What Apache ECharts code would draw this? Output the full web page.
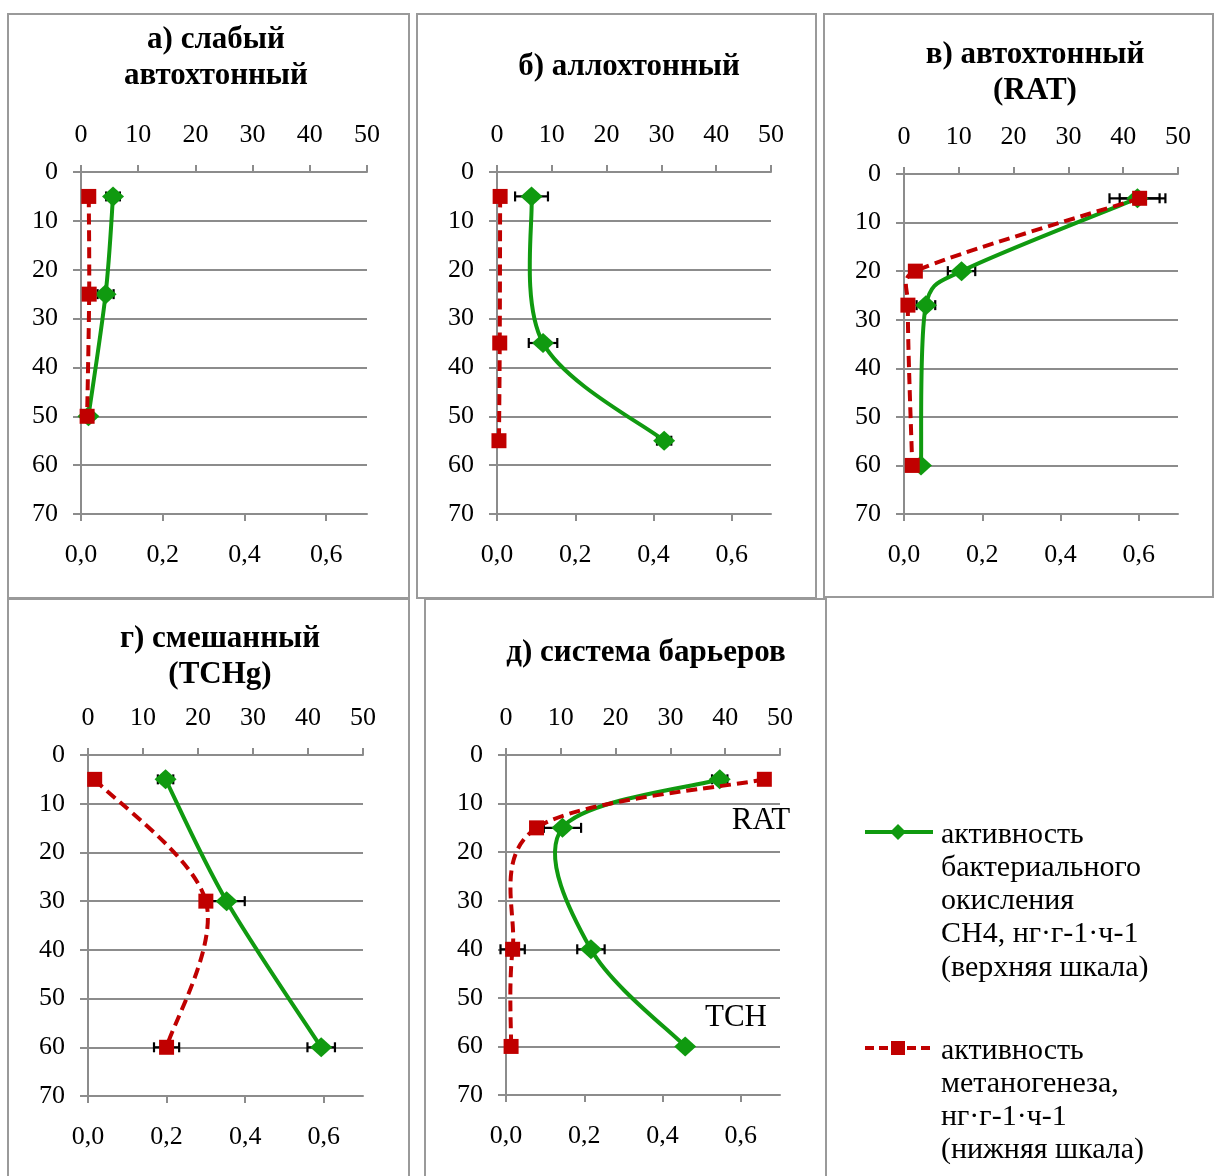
<!DOCTYPE html>
<html>
<head>
<meta charset="utf-8">
<script src="https://cdn.jsdelivr.net/npm/echarts@6/dist/echarts.min.js"></script>
<style>
  html, body { margin: 0; padding: 0; background: #ffffff; }
  #chart { width: 1214px; height: 1176px; }
</style>
</head>
<body>
<div id="chart"></div>
<script>
// Depth profiles (cm): CH4 oxidation (top scale) and methanogenesis (bottom scale)

const panelTitles = [
  'а) слабый\nавтохтонный',
  'б) аллохтонный',
  'в) автохтонный\n(RAT)',
  'г) смешанный\n(TCHg)',
  'д) система барьеров'
];

// tick values
const topTicks = [0, 10, 20, 30, 40, 50];
const bottomTicks = [0, 0.2, 0.4, 0.6];
const depthTicks = [0, 10, 20, 30, 40, 50, 60, 70];

// а) weak autochthonous
const depthA = [5, 25, 50];
const oxidA = [5.6, 4.3, 1.3];
const oxidErrA = [1.2, 1.4, 0];
const methA = [0.019, 0.020, 0.015];
const methErrA = [0, 0, 0];

// б) allochthonous
const depthB = [5, 35, 55];
const oxidB = [6.3, 8.4, 30.5];
const oxidErrB = [3.0, 2.6, 1.3];
const methB = [0.008, 0.007, 0.005];
const methErrB = [0, 0, 0];

// в) autochthonous (RAT)
const depthC = [5, 20, 27, 60];
const oxidC = [42.6, 10.5, 4.0, 3.1];
const oxidErrC = [5.1, 2.5, 1.7, 0];
const methC = [0.602, 0.029, 0.010, 0.021];
const methErrC = [0.051, 0, 0, 0];

// г) mixed (TCHg)
const depthD = [5, 30, 60];
const oxidD = [14.1, 25.2, 42.4];
const oxidErrD = [1.4, 3.3, 2.5];
const methD = [0.017, 0.30, 0.20];
const methErrD = [0, 0, 0.032];

// д) barrier system
const depthE = [5, 15, 40, 60];
const oxidE = [39.0, 10.3, 15.5, 32.7];
const oxidErrE = [1.4, 3.4, 2.5, 0];
const methE = [0.66, 0.078, 0.017, 0.013];
const methErrE = [0, 0, 0.031, 0];

const legendOxid = 'активность\nбактериального\nокисления\nCH4, нг·г-1·ч-1\n(верхняя шкала)';
const legendMeth = 'активность\nметаногенеза,\nнг·г-1·ч-1\n(нижняя шкала)';

const panels = [
  { depth: depthA, oxid: oxidA, oxidErr: oxidErrA, meth: methA, methErr: methErrA },
  { depth: depthB, oxid: oxidB, oxidErr: oxidErrB, meth: methB, methErr: methErrB },
  { depth: depthC, oxid: oxidC, oxidErr: oxidErrC, meth: methC, methErr: methErrC },
  { depth: depthD, oxid: oxidD, oxidErr: oxidErrD, meth: methD, methErr: methErrD },
  { depth: depthE, oxid: oxidE, oxidErr: oxidErrE, meth: methE, methErr: methErrE }
];

// layout of the five plot areas and their frames
const gridBoxes = [
  { left: 81,  top: 172, width: 286, height: 342 },
  { left: 497, top: 172, width: 274, height: 342 },
  { left: 904, top: 174, width: 274, height: 340 },
  { left: 88,  top: 755, width: 275, height: 341 },
  { left: 506, top: 755, width: 274, height: 340 }
];
const frames = [
  [8, 14, 401, 584], [417, 14, 399, 584], [824, 14, 389, 583],
  [8, 599, 401, 590], [425, 599, 401, 590]
];
const titlePos = [
  { x: 216, y: 22 }, { x: 629, y: 49 }, { x: 1035, y: 37 },
  { x: 220, y: 621 }, { x: 646, y: 635 }
];

const FONT = '"Liberation Serif", "Times New Roman", serif';
const GREEN = '#109a10';
const RED = '#c00000';
const GRAY = '#8c8c8c';

const labelStyle = { color: '#000', fontSize: 26, fontFamily: FONT };
const lineStyleAxis = { color: GRAY, width: 2 };
const fmtComma = v => v.toFixed(1).replace('.', ',');

const grid = [], xAxis = [], yAxis = [], series = [], title = [];

// horizontal error bars with end caps
function errorBars(xi, yi, xs, ys, errs) {
  const data = [];
  xs.forEach((x, i) => { if (errs[i] > 0) data.push([x, ys[i], errs[i]]); });
  return {
    type: 'custom',
    xAxisIndex: xi,
    yAxisIndex: yi,
    z: 1,
    silent: true,
    encode: { x: 0, y: 1 },
    data: data,
    renderItem: function (params, api) {
      const x = api.value(0), y = api.value(1), e = api.value(2);
      const a = api.coord([x - e, y]);
      const b = api.coord([x + e, y]);
      const h = 5;
      const st = { stroke: '#000', lineWidth: 2.2 };
      return {
        type: 'group',
        children: [
          { type: 'line', shape: { x1: a[0], y1: a[1], x2: b[0], y2: b[1] }, style: st },
          { type: 'line', shape: { x1: a[0], y1: a[1] - h, x2: a[0], y2: a[1] + h }, style: st },
          { type: 'line', shape: { x1: b[0], y1: b[1] - h, x2: b[0], y2: b[1] + h }, style: st }
        ]
      };
    }
  };
}

// smoothed profile line: cubic Bezier segments, tangent = (next - prev) / 6,
// with each control arm limited to half of its segment length
function smoothProfile(xi, yi, xs, ys, color, dash, z) {
  const pts = xs.map((x, i) => [x, ys[i]]);
  const n = pts.length;
  return {
    type: 'custom',
    xAxisIndex: xi,
    yAxisIndex: yi,
    z: z,
    silent: true,
    encode: { x: 0, y: 1 },
    data: pts,
    renderItem: function (params, api) {
      const i = params.dataIndex;
      if (i >= n - 1) return null;
      const c = k => api.coord(pts[Math.max(0, Math.min(n - 1, k))]);
      const p0 = c(i - 1), p1 = c(i), p2 = c(i + 1), p3 = c(i + 2);
      const seg = Math.hypot(p2[0] - p1[0], p2[1] - p1[1]);
      const arm = (a, b) => {
        const dx = b[0] - a[0], dy = b[1] - a[1];
        const d = Math.hypot(dx, dy);
        if (d === 0) return [0, 0];
        let f = 1 / 6;
        if (d * f > seg / 2) f = seg / (2 * d);
        return [dx * f, dy * f];
      };
      const t1 = arm(p0, p2), t2 = arm(p1, p3);
      return {
        type: 'bezierCurve',
        shape: {
          x1: p1[0], y1: p1[1], x2: p2[0], y2: p2[1],
          cpx1: p1[0] + t1[0], cpy1: p1[1] + t1[1],
          cpx2: p2[0] - t2[0], cpy2: p2[1] - t2[1]
        },
        style: { stroke: color, lineWidth: 4, lineDash: dash, fill: 'none' }
      };
    }
  };
}

panels.forEach((p, k) => {
  grid.push(Object.assign({ containLabel: false }, gridBoxes[k]));
  const topIdx = xAxis.length;
  xAxis.push({
    type: 'value', gridIndex: k, position: 'top',
    min: 0, max: 50, interval: 10,
    axisLine: { show: true, lineStyle: lineStyleAxis },
    axisTick: { show: true, length: 7, lineStyle: lineStyleAxis },
    axisLabel: Object.assign({ margin: 24 }, labelStyle),
    splitLine: { show: false }
  });
  const botIdx = xAxis.length;
  xAxis.push({
    type: 'value', gridIndex: k, position: 'bottom',
    min: 0, max: 0.7,
    axisLine: { show: true, onZero: false, lineStyle: lineStyleAxis },
    axisTick: { show: true, length: 7, lineStyle: lineStyleAxis, customValues: bottomTicks },
    axisLabel: Object.assign({ margin: 28, formatter: fmtComma, customValues: bottomTicks }, labelStyle),
    splitLine: { show: false }
  });
  const yIdx = yAxis.length;
  yAxis.push({
    type: 'value', gridIndex: k, inverse: true,
    min: 0, max: 70, interval: 10,
    axisLine: { show: true, onZero: false, lineStyle: lineStyleAxis },
    axisTick: { show: true, length: 8, lineStyle: lineStyleAxis },
    axisLabel: Object.assign({ margin: 23 }, labelStyle),
    splitLine: { show: true, lineStyle: { color: GRAY, width: 2 } }
  });

  series.push(errorBars(topIdx, yIdx, p.oxid, p.depth, p.oxidErr));
  series.push(errorBars(botIdx, yIdx, p.meth, p.depth, p.methErr));

  series.push(smoothProfile(topIdx, yIdx, p.oxid, p.depth, GREEN, null, 2));
  series.push({
    type: 'scatter', name: 'oxidation', xAxisIndex: topIdx, yAxisIndex: yIdx,
    data: p.oxid.map((v, i) => [v, p.depth[i]]),
    z: 3, symbol: 'diamond', symbolSize: [22, 20],
    itemStyle: { color: GREEN, opacity: 1 },
    clip: false
  });
  series.push(smoothProfile(botIdx, yIdx, p.meth, p.depth, RED, [11, 6], 4));
  series.push({
    type: 'scatter', name: 'methanogenesis', xAxisIndex: botIdx, yAxisIndex: yIdx,
    data: p.meth.map((v, i) => [v, p.depth[i]]),
    z: 5, symbol: 'rect', symbolSize: 15,
    itemStyle: { color: RED, opacity: 1 },
    clip: false
  });

  title.push({
    text: panelTitles[k],
    left: titlePos[k].x, top: titlePos[k].y,
    textAlign: 'center', padding: 0,
    textStyle: { fontFamily: FONT, fontSize: 31, fontWeight: 'bold', color: '#000', lineHeight: 36 }
  });
});

const graphics = frames.map(f => ({
  type: 'rect', silent: true, z: 0,
  shape: { x: f[0], y: f[1], width: f[2], height: f[3] },
  style: { fill: 'none', stroke: '#9a9a9a', lineWidth: 2 }
}));

// series notes inside panel д
graphics.push(
  { type: 'text', style: { text: 'RAT', x: 761, y: 821, align: 'center', verticalAlign: 'middle', font: '31px ' + FONT, fill: '#000' } },
  { type: 'text', style: { text: 'TCH', x: 736, y: 1018, align: 'center', verticalAlign: 'middle', font: '31px ' + FONT, fill: '#000' } }
);

// legend
graphics.push(
  { type: 'line', shape: { x1: 865, y1: 832, x2: 933, y2: 832 }, style: { stroke: GREEN, lineWidth: 4 } },
  { type: 'polygon', shape: { points: [[898, 824], [906, 832], [898, 840], [890, 832]] }, style: { fill: GREEN } },
  { type: 'text', style: { text: legendOxid, x: 941, y: 818, font: '30px ' + FONT, lineHeight: 33.3, fill: '#000' } },
  { type: 'line', shape: { x1: 865, y1: 1048, x2: 933, y2: 1048 }, style: { stroke: RED, lineWidth: 4, lineDash: [9, 5] } },
  { type: 'rect', shape: { x: 891, y: 1041, width: 14, height: 14 }, style: { fill: RED } },
  { type: 'text', style: { text: legendMeth, x: 941, y: 1034, font: '30px ' + FONT, lineHeight: 33.3, fill: '#000' } }
);

const chart = echarts.init(document.getElementById('chart'), null, { renderer: 'canvas' });
chart.setOption({
  backgroundColor: '#ffffff',
  animation: false,
  title: title,
  grid: grid,
  xAxis: xAxis,
  yAxis: yAxis,
  series: series,
  graphic: graphics
});
</script>
</body>
</html>
